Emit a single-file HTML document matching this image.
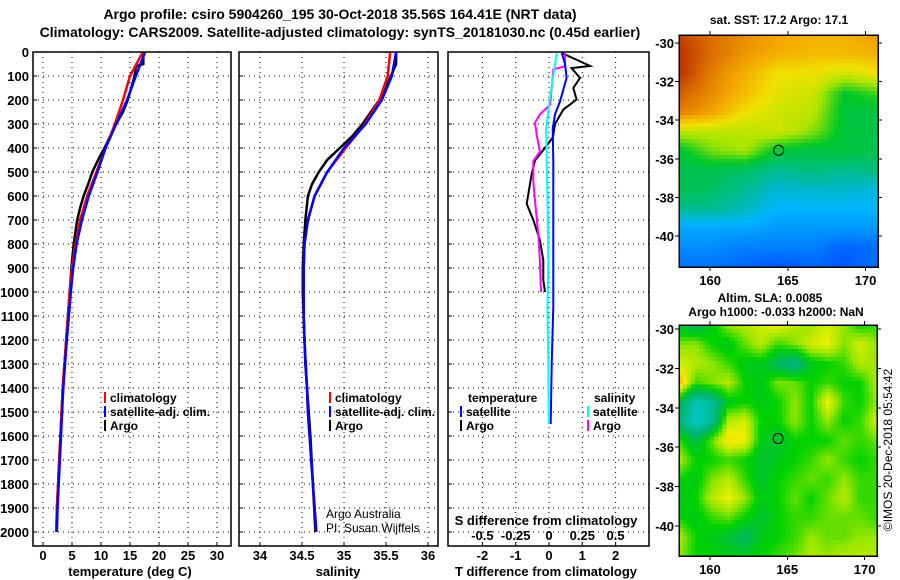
<!DOCTYPE html>
<html><head><meta charset="utf-8"><style>
body{margin:0;background:#fff}
svg{display:block;font-family:"Liberation Sans",sans-serif;font-weight:bold}
</style></head><body>
<svg id="s" width="900" height="580" viewBox="0 0 900 580">
<text x="340" y="19" font-size="14" text-anchor="middle">Argo profile: csiro 5904260_195 30-Oct-2018 35.56S 164.41E (NRT data)</text>
<text x="340" y="37" font-size="14" text-anchor="middle">Climatology: CARS2009. Satellite-adjusted climatology: synTS_20181030.nc (0.45d earlier)</text>
</svg>
<script>
// ---------- data ----------
const depthTicks=[0,100,200,300,400,500,600,700,800,900,1000,1100,1200,1300,1400,1500,1600,1700,1800,1900,2000];
const tempTicks=[0,5,10,15,20,25,30];
const salTicks=[34,34.5,35,35.5,36];
const tdiffTicks=[-2,-1,0,1,2];
const sdiffTicks=[-0.5,-0.25,0,0.25,0.5];
const lonTicks=[160,165,170];
const latTicks=[-30,-32,-34,-36,-38,-40];

const tArgoDepth=[0,50,60,100,150,200,250,300,350,400,450,500,550,600,650,700,800,900,1000,1100,1200,1300,1400,1500,1600,1700,1800,1900,2000];
const tArgo=[17.3,17.3,16.0,15.8,15.2,14.6,13.8,12.6,11.6,10.6,9.5,8.5,7.8,7.0,6.4,5.9,5.3,4.9,4.6,4.3,4.0,3.7,3.4,3.2,3.0,2.8,2.6,2.4,2.3];
const climDepth=[0,100,200,300,400,500,600,700,800,900,1000,1100,1200,1300,1400,1500,1600,1700,1800,1900,2000];
const tClim=[17.2,15.0,13.8,12.4,10.8,9.2,7.6,6.4,5.6,5.0,4.6,4.3,4.0,3.7,3.4,3.2,3.0,2.8,2.6,2.4,2.3];
const tSat=[17.6,16.0,14.5,12.6,10.8,9.4,7.9,6.7,5.8,5.2,4.8,4.45,4.1,3.8,3.5,3.3,3.1,2.9,2.7,2.5,2.4];
const sArgoDepth=[0,50,100,200,300,350,400,450,500,550,600,700,800,900,1000,1200,1400,1600,1800,2000];
const sArgo=[35.62,35.62,35.56,35.42,35.22,35.1,34.95,34.8,34.7,34.62,34.57,34.54,34.52,34.51,34.51,34.53,34.56,34.6,34.63,34.66];
const sClim=[35.55,35.52,35.42,35.25,35.02,34.8,34.65,34.57,34.53,34.52,34.52,34.52,34.53,34.54,34.56,34.57,34.59,34.61,34.63,34.65,34.67];
const sSat=[35.62,35.57,35.45,35.26,35.0,34.8,34.65,34.57,34.53,34.52,34.52,34.52,34.53,34.54,34.56,34.57,34.59,34.61,34.63,34.65,34.67];
const dArgoTDepth=[4,58,67,108,150,198,240,300,355,410,452,508,590,632,700,785,868,951,1000];
const dArgoT=[0.38,1.23,0.68,0.93,0.73,0.83,0.43,0.18,0.12,-0.18,-0.42,-0.52,-0.62,-0.67,-0.47,-0.27,-0.17,-0.17,-0.12];
const dArgoSDepth=[4,60,72,150,220,260,295,345,415,455,540,620,760,870,1000];
const dArgoS=[0.12,0.12,0.033,0.02,0.008,-0.068,-0.105,-0.092,-0.068,-0.118,-0.118,-0.105,-0.08,-0.068,-0.06];
const dSatTDepth=[4,50,108,206,260,320,460,740,1060,1300,1550];
const dSatT=[0.38,0.48,0.53,0.33,0.18,0.11,0.13,0.13,0.13,0.08,0.05];
const dSatSDepth=[4,50,190,320,600,870,1060,1300,1550];
const dSatS=[0.058,0.045,0.008,-0.022,-0.012,-0.005,-0.012,-0.005,-0.002];

const sstGrid=[
[.92,.85,.80,.76,.74,.74,.78],
[.95,.85,.78,.74,.72,.72,.74],
[.95,.82,.74,.66,.66,.62,.66],
[.88,.80,.72,.64,.62,.48,.52],
[.82,.76,.66,.62,.60,.46,.45],
[.60,.60,.60,.62,.56,.46,.45],
[.46,.55,.58,.46,.45,.46,.44],
[.44,.44,.42,.38,.40,.38,.40],
[.44,.42,.38,.33,.34,.34,.32],
[.38,.38,.35,.30,.30,.30,.30],
[.28,.28,.28,.26,.26,.26,.26],
[.24,.24,.22,.22,.22,.18,.20],
[.20,.20,.18,.16,.18,.16,.20]];
const slaGrid=[
[.46,.42,.48,.56,.58,.60,.62,.58,.56,.60,.56,.50,.52],
[.55,.56,.50,.48,.54,.58,.52,.55,.60,.62,.55,.60,.56],
[.60,.58,.56,.52,.48,.48,.42,.38,.48,.50,.52,.58,.56],
[.68,.52,.55,.58,.50,.48,.55,.54,.50,.52,.50,.50,.58],
[.45,.32,.36,.48,.50,.48,.50,.56,.50,.62,.52,.50,.56],
[.40,.30,.36,.58,.60,.50,.50,.56,.50,.56,.50,.52,.60],
[.52,.44,.54,.64,.62,.48,.46,.50,.50,.50,.54,.52,.54],
[.58,.50,.50,.52,.50,.46,.48,.50,.52,.56,.52,.50,.52],
[.50,.48,.55,.58,.52,.46,.50,.52,.54,.52,.56,.52,.52],
[.48,.50,.58,.62,.56,.48,.50,.54,.50,.54,.58,.52,.52],
[.50,.48,.52,.54,.50,.46,.50,.52,.52,.54,.54,.54,.52],
[.58,.50,.48,.46,.42,.48,.50,.52,.56,.54,.54,.56,.56],
[.56,.50,.50,.48,.48,.50,.52,.54,.58,.56,.58,.58,.58]];
const argoLon=164.41, argoLat=-35.56;

// ---------- helpers ----------
const S=document.getElementById('s'),NS='http://www.w3.org/2000/svg';
function el(t,a,p){const e=document.createElementNS(NS,t);for(const k in a)e.setAttribute(k,a[k]);(p||S).appendChild(e);return e;}
function txt(x,y,s,size,anchor,p){const e=el('text',{x:x,y:y,'font-size':size,'text-anchor':anchor||'middle'},p);e.textContent=s;return e;}
const yD=d=>52+d*0.24, PB=546;
const xT=v=>43+v*5.8, xS=v=>260+(v-34)*84, xDT=v=>549+v*33.3, xDS=v=>549+v*133.2;
const panels=[{x0:33,x1:231,sx:xT,ticks:tempTicks,name:'temperature-panel'},{x0:239,x1:438,sx:xS,ticks:salTicks,name:'salinity-panel'},{x0:448,x1:649,sx:xDT,ticks:tdiffTicks,name:'difference-panel'}];
function line(p,xs,ys,sx,color,w,name){
  const pts=xs.map((v,i)=>sx(v).toFixed(1)+','+yD(ys[i]).toFixed(1)).join(' ');
  const e=el('polyline',{points:pts,fill:'none',stroke:color,'stroke-width':w},p);
  
  
}

panels.forEach((P,pi)=>{
  const g=el('g',{});
  
  
  P.ticks.forEach(t=>{const x=P.sx(t);el('line',{x1:x,x2:x,y1:52,y2:PB,stroke:'#000','stroke-dasharray':'1,4'},g);el('line',{x1:x,x2:x,y1:PB,y2:PB-4,stroke:'#000'},g);});
  depthTicks.forEach(d=>{const y=yD(d);el('line',{x1:P.x0,x2:P.x1,y1:y,y2:y,stroke:'#000','stroke-dasharray':'1,4'},g);el('line',{x1:P.x0,x2:P.x0+4,y1:y,y2:y,stroke:'#000'},g);});
  P.g=g;
});
// depth labels
depthTicks.forEach(d=>{const t=txt(29,yD(d)+5,String(d),13,'end');
  
  });
tempTicks.forEach(v=>{const t=txt(xT(v),560,String(v),13);
  
  });
salTicks.forEach(v=>{const t=txt(xS(v),560,String(v),13);
  
  });
tdiffTicks.forEach(v=>{const t=txt(xDT(v),560,String(v),13);
  
  });
sdiffTicks.forEach(v=>{const t=txt(xDS(v),540,String(v),13);
  
  });
let t;
t=txt(130,576,'temperature (deg C)',13);
t=txt(338,576,'salinity',13);
t=txt(546,576,'T difference from climatology',13);
t=txt(546,525,'S difference from climatology',13);

// profiles
const g0=panels[0].g,g1=panels[1].g,g2=panels[2].g;
line(g0,tArgo,tArgoDepth,xT,'#000',2.5,'temp-argo-line');
line(g0,tClim,climDepth,xT,'#f00',2.5,'temp-climatology-line');
line(g0,tSat,climDepth,xT,'#00f',2.5,'temp-satellite-line');
line(g1,sArgo,sArgoDepth,xS,'#000',2.5,'sal-argo-line');
line(g1,sClim,climDepth,xS,'#f00',2.5,'sal-climatology-line');
line(g1,sSat,climDepth,xS,'#00f',2.5,'sal-satellite-line');
line(g2,dArgoT,dArgoTDepth,xDT,'#000',2,'t-diff-argo-line');
line(g2,dArgoS,dArgoSDepth,xDS,'#f0f',2,'s-diff-argo-line');
line(g2,dSatT,dSatTDepth,xDT,'#00f',2,'t-diff-satellite-line');
line(g2,dSatS,dSatSDepth,xDS,'#0ff',2,'s-diff-satellite-line');
panels.forEach(P=>{const r=el('rect',{x:P.x0,y:52,width:P.x1-P.x0,height:PB-52,fill:'none',stroke:'#000','stroke-width':1.5});
  
  });

// legends
function leg(x,y,color,label,name){
  const g=el('g',{});
  
  
  el('rect',{x:x,y:y-10,width:2,height:11,fill:color},g);
  txt(x+6,y,label,12,'start',g);
}
leg(104,402,'#f00','climatology','legend-temp-climatology');
leg(104,416,'#00f','satellite-adj. clim.','legend-temp-satellite');
leg(104,430,'#000','Argo','legend-temp-argo');
leg(329,402,'#f00','climatology','legend-sal-climatology');
leg(329,416,'#00f','satellite-adj. clim.','legend-sal-satellite');
leg(329,430,'#000','Argo','legend-sal-argo');
t=txt(468,402,'temperature',12,'start');
t=txt(594,402,'salinity',12,'start');
leg(460,416,'#00f','satellite','legend-tdiff-satellite');
leg(460,430,'#000','Argo','legend-tdiff-argo');
leg(587,416,'#0ff','satellite','legend-sdiff-satellite');
leg(587,430,'#f0f','Argo','legend-sdiff-argo');
t=txt(326,518,'Argo Australia',12,'start');t.setAttribute('font-weight','normal');
t=txt(326,532,'PI: Susan Wijffels',12,'start');t.setAttribute('font-weight','normal');

// ---------- maps ----------
function lerpC(stops,v){for(let i=1;i<stops.length;i++){if(v<=stops[i][0]||i==stops.length-1){const a=stops[i-1],b=stops[i];let f=(v-a[0])/(b[0]-a[0]);f=Math.max(0,Math.min(1,f));return 'rgb('+[1,2,3].map(k=>Math.round(a[k]+(b[k]-a[k])*f)).join(',')+')';}}}
const sstStops=[[0,0,0,150],[0.15,0,80,255],[0.3,0,180,255],[0.4,0,190,120],[0.48,0,200,40],[0.58,170,230,0],[0.66,240,225,0],[0.75,245,170,0],[0.85,220,110,0],[1,170,20,0]];
const slaStops=[[0.3,0,200,200],[0.42,0,180,100],[0.5,0,210,0],[0.56,150,230,0],[0.62,240,240,0],[0.7,250,160,0]];
function drawMap(grid,stops,x0,x1,y0,y1,yLat,name){
  const g=el('g',{'shape-rendering':'crispEdges'});
  
  
  const R=grid.length,C=grid[0].length,nx=50,ny=58,cw=(x1-x0)/nx,ch=(y1-y0)/ny;
  for(let j=0;j<ny;j++)for(let i=0;i<nx;i++){
    const gx=(i+0.5)/nx*(C-1),gy=(j+0.5)/ny*(R-1),ix=Math.min(C-2,Math.floor(gx)),iy=Math.min(R-2,Math.floor(gy)),fx=gx-ix,fy=gy-iy;
    const v=grid[iy][ix]*(1-fx)*(1-fy)+grid[iy][ix+1]*fx*(1-fy)+grid[iy+1][ix]*(1-fx)*fy+grid[iy+1][ix+1]*fx*fy;
    el('rect',{x:(x0+i*cw).toFixed(2),y:(y0+j*ch).toFixed(2),width:(cw+0.6).toFixed(2),height:(ch+0.6).toFixed(2),fill:lerpC(stops,v)},g);
  }
  const xL=l=>x0+(l-158)*(x1-x0)/12.8;
  el('rect',{x:x0,y:y0,width:x1-x0,height:y1-y0,fill:'none',stroke:'#000','stroke-width':1.5},g);
  lonTicks.forEach(l=>{el('line',{x1:xL(l),x2:xL(l),y1:y0,y2:y0-4,stroke:'#000'},g);el('line',{x1:xL(l),x2:xL(l),y1:y1,y2:y1+4,stroke:'#000'},g);
    const t=txt(xL(l),y1+18,String(l),13);});
  latTicks.forEach(l=>{const y=yLat(l);el('line',{x1:x0,x2:x0-4,y1:y,y2:y,stroke:'#000'},g);el('line',{x1:x1,x2:x1+4,y1:y,y2:y,stroke:'#000'},g);
    const t=txt(x0-5,y+5,String(l),13,'end');});
  const c=el('circle',{cx:xL(argoLon),cy:yLat(argoLat),r:5,fill:'none',stroke:'#000','stroke-width':1});
  
  
}
drawMap(sstGrid,sstStops,679,878,35,267,l=>43+(-30-l)*19.3,'sst-map');
drawMap(slaGrid,slaStops,679,877,325,556,l=>329+(-30-l)*19.7,'sla-map');
t=txt(779,24,'sat. SST: 17.2 Argo: 17.1',12);
t=txt(770,302,'Altim. SLA: 0.0085',12);
t=txt(776,316,'Argo h1000: -0.033 h2000: NaN',12);
t=txt(0,0,'©IMOS 20-Dec-2018 05:54:42',12);t.setAttribute('transform','translate(892,450) rotate(-90)');t.setAttribute('font-weight','normal');

</script>
</body></html>
